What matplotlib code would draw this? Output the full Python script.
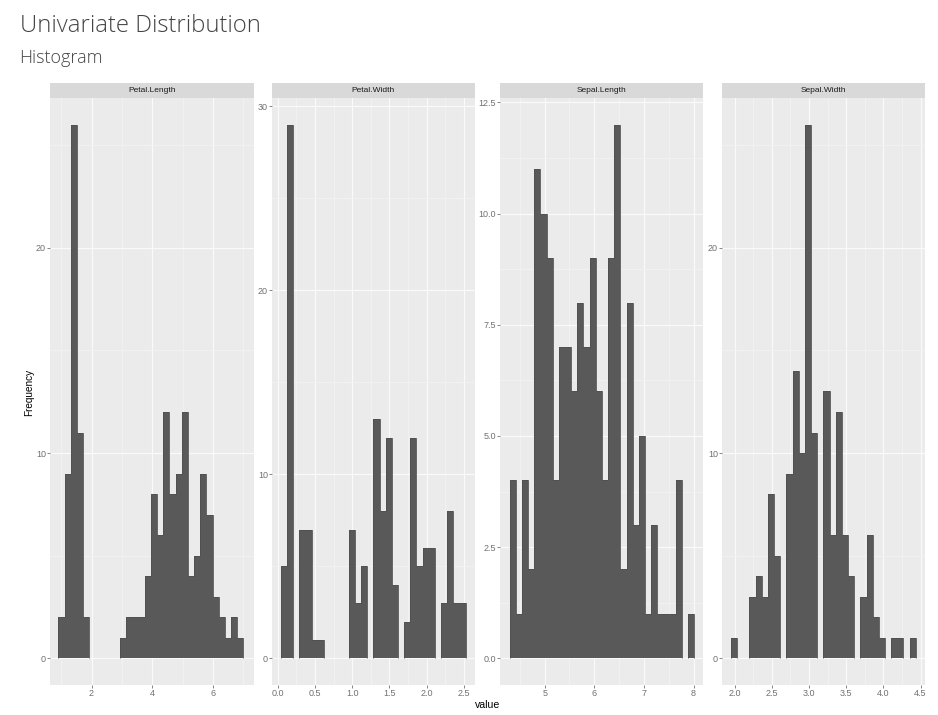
import matplotlib
matplotlib.use("Agg")
import matplotlib.pyplot as plt
import numpy as np

W, H = 938, 715

# Panel names and bin counts (30 bins each)
panel_names = ["Petal.Length", "Petal.Width", "Sepal.Length", "Sepal.Width"]
petal_length = [2, 9, 26, 11, 2, 0, 0, 0, 0, 0, 1, 2, 2, 2, 4, 8, 6, 12, 8, 9, 12, 4, 5, 9, 7, 3, 2, 1, 2, 1]
petal_width = [5, 29, 0, 7, 7, 1, 1, 0, 0, 0, 0, 7, 3, 5, 0, 13, 8, 12, 4, 0, 2, 12, 5, 6, 6, 0, 3, 8, 3, 3]
sepal_length = [4, 1, 4, 2, 11, 10, 9, 4, 7, 7, 6, 8, 7, 9, 6, 4, 9, 12, 2, 8, 3, 5, 1, 3, 1, 1, 1, 4, 0, 1]
sepal_width = [1, 0, 0, 3, 4, 3, 8, 5, 0, 9, 14, 10, 26, 11, 0, 13, 6, 12, 6, 4, 0, 3, 6, 2, 1, 0, 1, 1, 0, 1]
all_counts = [petal_length, petal_width, sepal_length, sepal_width]

# Histogram range of each panel
bin_ranges = [(0.91, 7.01), (0.044, 2.523), (4.295, 8.013), (1.951, 4.436)]

x_ticks = [[2, 4, 6], [0.0, 0.5, 1.0, 1.5, 2.0, 2.5], [5, 6, 7, 8], [2.0, 2.5, 3.0, 3.5, 4.0, 4.5]]
x_labels = [["2", "4", "6"], ["0.0", "0.5", "1.0", "1.5", "2.0", "2.5"], ["5", "6", "7", "8"],
            ["2.0", "2.5", "3.0", "3.5", "4.0", "4.5"]]
x_minor = [[1, 3, 5, 7], [0.25, 0.75, 1.25, 1.75, 2.25], [4.5, 5.5, 6.5, 7.5],
           [2.25, 2.75, 3.25, 3.75, 4.25]]
y_ticks = [[0, 10, 20], [0, 10, 20, 30], [0, 2.5, 5, 7.5, 10, 12.5], [0, 10, 20]]
y_labels = [["0", "10", "20"], ["0", "10", "20", "30"], ["0.0", "2.5", "5.0", "7.5", "10.0", "12.5"],
            ["0", "10", "20"]]
y_minor = [[5, 15, 25], [5, 15, 25], [1.25, 3.75, 6.25, 8.75, 11.25], [5, 15, 25]]

x_limits = [(0.63, 7.34), (-0.077, 2.648), (4.10, 8.19), (1.83, 4.56)]
y_limits = [(-1.3, 27.3), (-1.45, 30.45), (-0.6, 12.6), (-1.3, 27.3)]

# Panel left/right edges in pixels
panel_x = [(50, 253.5), (272, 475), (500, 703), (722, 925)]
panel_top, panel_bottom = 98, 685
strip_top = 83

plt.rcParams["font.family"] = ["Liberation Sans", "DejaVu Sans"]
fig = plt.figure(figsize=(W / 100, H / 100), dpi=100, facecolor="white")


def add_px_axes(x0, x1, y0, y1):
    return fig.add_axes([x0 / W, 1 - y1 / H, (x1 - x0) / W, (y1 - y0) / H])


for i, name in enumerate(panel_names):
    x0, x1 = panel_x[i]
    ax = add_px_axes(x0, x1, panel_top, panel_bottom)
    ax.set_facecolor("#EBEBEB")
    counts = np.array(all_counts[i])
    edges = np.linspace(bin_ranges[i][0], bin_ranges[i][1], len(counts) + 1)
    ax.bar(edges[:-1], counts, width=np.diff(edges), align="edge", color="#595959", linewidth=0, zorder=3)

    # darker outline around each group of touching bars
    start = None
    for j in range(len(counts) + 1):
        filled = j < len(counts) and counts[j] > 0
        if filled and start is None:
            start = j
        if not filled and start is not None:
            ax.stairs(counts[start:j], edges[start:j + 1], baseline=0, fill=False, color="#505050",
                      linewidth=0.6, zorder=4)
            start = None

    ax.set_xlim(x_limits[i])
    ax.set_ylim(y_limits[i])
    ax.set_xticks(x_ticks[i], x_labels[i])
    ax.set_yticks(y_ticks[i], y_labels[i])
    ax.set_xticks(x_minor[i], minor=True)
    ax.set_yticks(y_minor[i], minor=True)
    ax.grid(which="major", color="#FAFAFA", linewidth=0.9, zorder=1)
    ax.grid(which="minor", color="#F2F2F2", linewidth=0.7, zorder=1)
    ax.set_axisbelow(True)
    ax.tick_params(which="major", length=2, width=0.6, color="#707070", labelcolor="#707070",
                   labelsize=6.5, pad=1)
    ax.tick_params(which="minor", length=0)
    for s in ax.spines.values():
        s.set_visible(False)

    # facet strip
    strip = add_px_axes(x0, x1, strip_top, panel_top)
    strip.set_facecolor("#D9D9D9")
    strip.set_xticks([])
    strip.set_yticks([])
    for s in strip.spines.values():
        s.set_visible(False)
    strip.text(0.5, 0.47, name, ha="center", va="center", fontsize=6, color="#1A1A1A", transform=strip.transAxes)

fig.text(29 / W, 1 - 392 / H, "Frequency", rotation=90, ha="center", va="center", fontsize=7.2, color="black")
fig.text(488 / W, 1 - 705 / H, "value", ha="center", va="center", fontsize=7.6, color="black")

fig.text(20 / W, 1 - 26 / H, "Univariate Distribution", family=["Open Sans", "DejaVu Sans"], fontweight="light",
         fontsize=17.2, color="#444444", ha="left", va="center")
fig.text(19.5 / W, 1 - 58 / H, "Histogram", family=["Open Sans", "DejaVu Sans"], fontweight="light",
         fontsize=13, color="#444444", ha="left", va="center")

fig.savefig("out.png", dpi=100)
